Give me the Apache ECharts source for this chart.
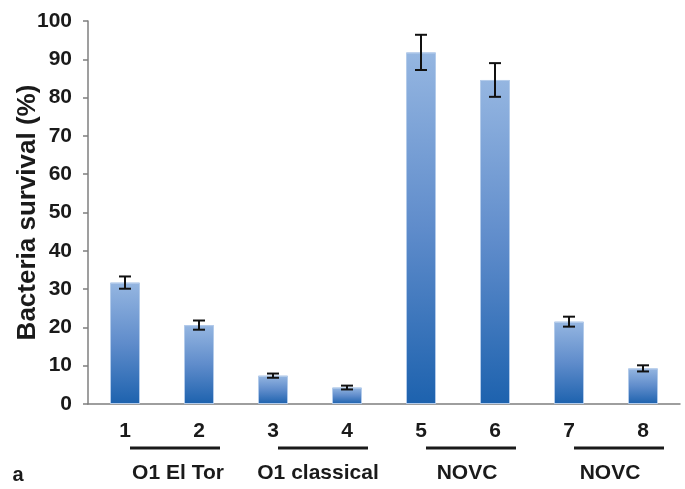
<!DOCTYPE html>
<html>
<head>
<meta charset="utf-8">
<style>
  html, body { margin: 0; padding: 0; background: #fff; }
  #chart { width: 685px; height: 489px; }
</style>
<script src="https://cdn.jsdelivr.net/npm/echarts@6/dist/echarts.min.js"></script>
</head>
<body>
<div id="chart"></div>
<script>
// Strain numbers along the x axis
const categories = ['1', '2', '3', '4', '5', '6', '7', '8'];
// Mean survival (%) for each strain
const survival = [31.7, 20.6, 7.4, 4.3, 91.8, 84.6, 21.5, 9.3];
// Standard deviation for each strain
const errors = [1.6, 1.2, 0.55, 0.5, 4.6, 4.4, 1.3, 0.8];
// Strain groups, each spanning two neighbouring strains
const groupNames = ['O1 El Tor', 'O1 classical', 'NOVC', 'NOVC'];
const groupMembers = [[0, 1], [2, 3], [4, 5], [6, 7]];
// Y axis scale
const yMin = 0, yMax = 100, yStep = 10;

const FONT = "'Liberation Sans', Arial, sans-serif";
const AXIS_GRAY = '#7f7f7f';
const TEXT = '#1a1a1a';

const chart = echarts.init(document.getElementById('chart'), null, { renderer: 'canvas' });

const errorData = survival.map((v, i) => [i, v - errors[i], v + errors[i]]);

function renderError(params, api) {
  const x = api.value(0);
  const lo = api.coord([x, api.value(1)]);
  const hi = api.coord([x, api.value(2)]);
  const half = 6;
  const style = { stroke: '#111', lineWidth: 2 };
  return {
    type: 'group',
    children: [
      { type: 'line', shape: { x1: hi[0], y1: hi[1], x2: lo[0], y2: lo[1] }, style },
      { type: 'line', shape: { x1: hi[0] - half, y1: hi[1], x2: hi[0] + half, y2: hi[1] }, style },
      { type: 'line', shape: { x1: lo[0] - half, y1: lo[1], x2: lo[0] + half, y2: lo[1] }, style }
    ]
  };
}

const option = {
  animation: false,
  backgroundColor: '#fff',
  grid: { left: 88, right: 5, top: 21, bottom: 85, containLabel: false, outerBoundsMode: 'none' },
  xAxis: {
    type: 'category',
    data: categories,
    axisLine: { lineStyle: { color: AXIS_GRAY, width: 1.5 } },
    axisTick: { length: 6, lineStyle: { color: AXIS_GRAY, width: 1.5 } },
    axisLabel: { fontFamily: FONT, fontWeight: 'bold', fontSize: 21, color: TEXT, margin: 17 }
  },
  yAxis: {
    type: 'value',
    min: yMin, max: yMax, interval: yStep,
    name: 'Bacteria survival (%)',
    nameLocation: 'middle',
    nameRotate: 90,
    nameGap: 47,
    nameMoveOverlap: false,
    nameTextStyle: { fontFamily: FONT, fontWeight: 'bold', fontSize: 26, color: TEXT },
    axisLine: { show: true, lineStyle: { color: AXIS_GRAY, width: 1.5 } },
    axisTick: { show: true, length: 5, lineStyle: { color: AXIS_GRAY, width: 1.5 } },
    splitLine: { show: false },
    axisLabel: { fontFamily: FONT, fontWeight: 'bold', fontSize: 21, color: TEXT, margin: 16 }
  },
  series: [
    {
      type: 'bar',
      data: survival,
      barWidth: 30,
      itemStyle: {
        color: new echarts.graphic.LinearGradient(0, 0, 0, 1, [
          { offset: 0, color: '#95b6e1' },
          { offset: 0.5, color: '#5f8ccb' },
          { offset: 1, color: '#1d62ae' }
        ]),
        borderColor: '#b3cbea',
        borderWidth: 1
      },
      z: 2
    },
    {
      type: 'custom',
      renderItem: renderError,
      data: errorData,
      encode: { x: 0, y: [1, 2] },
      z: 3
    }
  ]
};

chart.setOption(option);

// Group brackets and names below the strain numbers
function drawGroups() {
  const labelShift = [16, 8, 9, 4];
  const elements = [];
  groupMembers.forEach((pair, g) => {
    const xa = chart.convertToPixel({ xAxisIndex: 0 }, categories[pair[0]]);
    const xb = chart.convertToPixel({ xAxisIndex: 0 }, categories[pair[1]]);
    elements.push({
      type: 'line',
      shape: { x1: xa + 5, y1: 448, x2: xb + 21, y2: 448 },
      style: { stroke: TEXT, lineWidth: 3 }
    });
    elements.push({
      type: 'text',
      x: (xa + xb) / 2 + labelShift[g],
      y: 473,
      style: {
        text: groupNames[g],
        fontFamily: FONT, fontWeight: 'bold', fontSize: 21,
        fill: TEXT, align: 'center', verticalAlign: 'middle'
      }
    });
  });
  elements.push({
    type: 'text', x: 18, y: 475,
    style: {
      text: 'a', fontFamily: FONT, fontWeight: 'bold', fontSize: 20,
      fill: TEXT, align: 'center', verticalAlign: 'middle'
    }
  });
  chart.setOption({ graphic: { elements } });
}
drawGroups();
</script>
</body>
</html>
